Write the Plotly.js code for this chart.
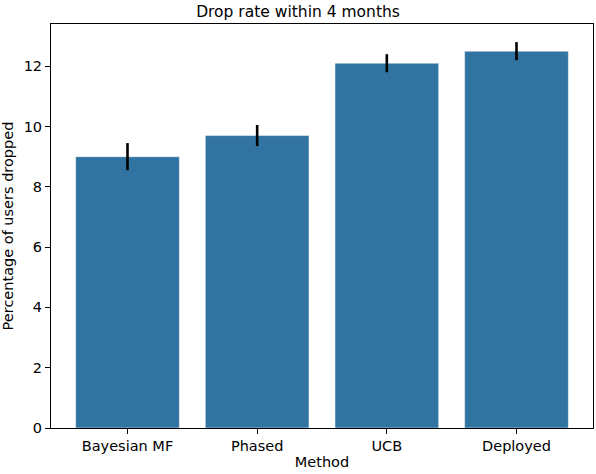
<!DOCTYPE html>
<html>
<head>
<meta charset="utf-8">
<script src="https://cdn.plot.ly/plotly-3.0.1.min.js"></script>
<style>
  html, body { margin: 0; padding: 0; background: #fff; }
  #chart { width: 596px; height: 474px; }
</style>
</head>
<body>
<div id="chart"></div>
<script>
const methods = ['Bayesian MF', 'Phased', 'UCB', 'Deployed'];
const dropRate = [9.0, 9.7, 12.1, 12.5];
const dropErr = [0.45, 0.35, 0.3, 0.3];

const trace = {
  type: 'bar',
  x: methods,
  y: dropRate,
  width: 0.8,
  marker: { color: '#3274a1', line: { color: 'rgba(255,255,255,0.6)', width: 0.8 } },
  error_y: { type: 'data', array: dropErr, visible: true, color: '#000', thickness: 2.6, width: 0 },
  hoverinfo: 'x+y'
};

const axisBase = {
  showline: true, mirror: true, linecolor: '#000', linewidth: 1,
  ticks: 'outside', ticklen: 5, tickwidth: 1, tickcolor: '#000',
  showgrid: false, zeroline: false,
  tickfont: { family: 'DejaVu Sans', size: 14.5, color: '#000' }
};

const layout = {
  width: 596, height: 474,
  margin: { l: 51, r: 3, t: 24, b: 46 },
  paper_bgcolor: '#fff', plot_bgcolor: '#fff',
  font: { family: 'DejaVu Sans', color: '#000' },
  showlegend: false,
  title: { text: 'Drop rate within 4 months', x: 0.5, xanchor: 'center', y: 0.975, yanchor: 'middle',
           font: { family: 'DejaVu Sans', size: 15.5, color: '#000' } },
  xaxis: Object.assign({}, axisBase, {
    type: 'category', range: [-0.59, 3.59],
    title: { text: 'Method', standoff: 3, font: { family: 'DejaVu Sans', size: 14.5, color: '#000' } }
  }),
  yaxis: Object.assign({}, axisBase, {
    range: [0, 13.4], tickvals: [0, 2, 4, 6, 8, 10, 12],
    title: { text: 'Percentage of users dropped', standoff: 7, font: { family: 'DejaVu Sans', size: 14.5, color: '#000' } }
  })
};

Plotly.newPlot('chart', [trace], layout, { displayModeBar: false, staticPlot: true });
</script>
</body>
</html>
